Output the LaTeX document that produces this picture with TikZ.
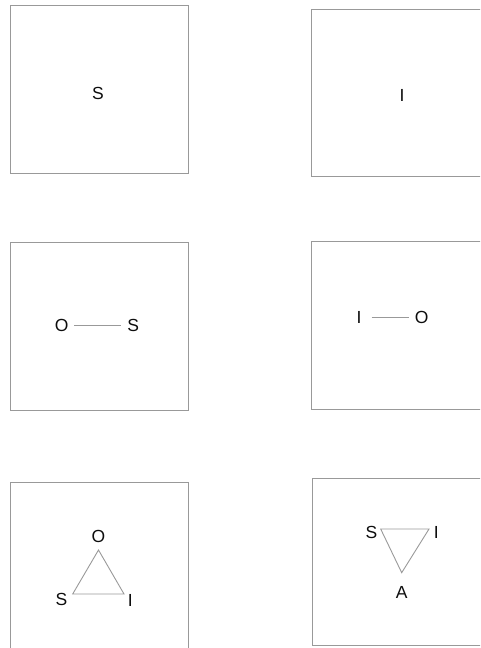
\documentclass[tikz,border=0pt]{standalone}
\usepackage{fontspec}
\setmainfont{Liberation Sans}
\usepackage{xcolor}
\usetikzlibrary{positioning}

\begin{document}
\begin{tikzpicture}[
    x=1pt, y=1pt,
    panel/.style={rectangle, draw=black!40, line width=1pt,
                  minimum width=178pt, minimum height=168pt, inner sep=0pt},
    tag/.style={font=\fontsize{17.5}{20}\selectfont, text=black!95},
    letter/.style={tag, minimum width=25pt, inner sep=0pt},
    vertex/.style={inner sep=0pt, minimum size=0pt},
    link/.style={draw=black!40, line width=0.9pt}
]
    \path[use as bounding box, clip] (0,0) rectangle (480,648);

    % six panels
    \node[panel] (p1) at (99,558) {};
    \node[panel, minimum height=167pt] (p2) at (400,554.5) {};
    \node[panel] (p3) at (99,321) {};
    \node[panel] (p4) at (400,322) {};
    \node[panel] (p5) at (99,81) {};
    \node[panel, minimum height=167pt] (p6) at (401,85.5) {};

    % single states
    \node[letter] (s1) at (98,555) {S};
    \node[letter] (i2) at (402,553) {I};

    % pairs
    \node[letter] (o3) at (61.7,322.3) {O};
    \node[letter] (s3) at (133.3,322.3) {S};
    \draw[link] (o3) -- (s3);

    \node[letter] (i4) at (359,330.7) {I};
    \node[letter] (o4) at (421.7,330.7) {O};
    \draw[link] (i4) -- (o4);

    % triangles
    \node[vertex, label={[tag, anchor=center, label distance=13.3pt]90:O}] (o5) at (98.5,98) {};
    \node[vertex, label={[tag, anchor=center, label distance=12.5pt]208.6:S}] (s5) at (72.7,54) {};
    \node[vertex, label={[tag, anchor=center, label distance=8.5pt]-45:I}] (i5) at (124,54) {};
    \draw[link] (o5.center) -- (s5.center) -- (i5.center) -- cycle;

    \node[vertex, label={[tag, anchor=center, label distance=9.5pt]198.4:S}] (s6) at (380.7,119) {};
    \node[vertex, label={[tag, anchor=center, label distance=7.6pt]-23.2:I}] (i6) at (429,119) {};
    \node[vertex, label={[tag, anchor=center, label distance=20pt]270:A}] (a6) at (401.7,75.3) {};
    \draw[link] (s6.center) -- (i6.center) -- (a6.center) -- cycle;
\end{tikzpicture}
\end{document}
